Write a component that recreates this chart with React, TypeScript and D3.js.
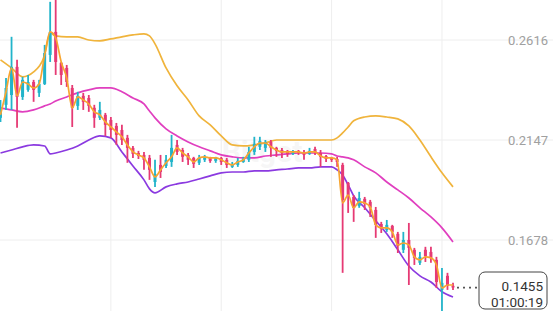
import React from 'react';
import * as d3 from 'd3';

const W = 553;
const H = 311;

// OHLC per candle (83 candles)
const opens = [0.2251,0.2312,0.2358,0.2490,0.2349,0.2382,0.2419,0.2368,0.2410,0.2546,0.2654,0.2509,0.2485,0.2391,0.2307,0.2354,0.2344,0.2298,0.2251,0.2265,0.2241,0.2213,0.2194,0.2157,0.2110,0.2086,0.2077,0.2063,0.1950,0.2030,0.2025,0.2044,0.2124,0.2100,0.2077,0.2063,0.2040,0.2054,0.2063,0.2049,0.2063,0.2054,0.2021,0.2030,0.2044,0.2054,0.2091,0.2115,0.2110,0.2138,0.2110,0.2100,0.2096,0.2082,0.2096,0.2091,0.2082,0.2105,0.2086,0.2072,0.2063,0.2058,0.2030,0.1946,0.1880,0.1838,0.1871,0.1857,0.1819,0.1753,0.1725,0.1744,0.1707,0.1632,0.1678,0.1632,0.1571,0.1632,0.1622,0.1585,0.1444,0.1510,0.1463];
const highs = [0.2335,0.2438,0.2631,0.2523,0.2443,0.2452,0.2429,0.2429,0.2593,0.2795,0.2818,0.2513,0.2499,0.2405,0.2373,0.2368,0.2358,0.2312,0.2326,0.2274,0.2255,0.2227,0.2218,0.2171,0.2119,0.2096,0.2091,0.2077,0.2054,0.2077,0.2077,0.2171,0.2147,0.2110,0.2086,0.2068,0.2077,0.2077,0.2068,0.2068,0.2068,0.2063,0.2044,0.2063,0.2068,0.2115,0.2162,0.2162,0.2147,0.2147,0.2115,0.2110,0.2100,0.2100,0.2100,0.2100,0.2110,0.2115,0.2100,0.2077,0.2068,0.2068,0.2040,0.1950,0.1889,0.1904,0.1880,0.1866,0.1833,0.1763,0.1772,0.1749,0.1716,0.1716,0.1758,0.1641,0.1622,0.1646,0.1646,0.1599,0.1547,0.1524,0.1477];
const lows = [0.2232,0.2288,0.2288,0.2204,0.2335,0.2373,0.2326,0.2349,0.2405,0.2513,0.2452,0.2405,0.2396,0.2208,0.2288,0.2288,0.2279,0.2204,0.2241,0.2166,0.2157,0.2124,0.2124,0.2040,0.2063,0.2058,0.2007,0.1960,0.1927,0.1969,0.2016,0.2021,0.2077,0.2044,0.2030,0.2016,0.2030,0.2044,0.2040,0.2040,0.2030,0.2016,0.2016,0.2021,0.2040,0.2044,0.2077,0.2100,0.2091,0.2068,0.2068,0.2063,0.2068,0.2077,0.2077,0.2054,0.2077,0.2077,0.2021,0.2044,0.2044,0.2021,0.1524,0.1805,0.1763,0.1829,0.1819,0.1786,0.1688,0.1711,0.1716,0.1688,0.1617,0.1617,0.1467,0.1561,0.1561,0.1575,0.1571,0.1453,0.1313,0.1444,0.1444];
const closes = [0.2298,0.2391,0.2490,0.2349,0.2429,0.2419,0.2382,0.2410,0.2555,0.2654,0.2513,0.2452,0.2419,0.2298,0.2354,0.2326,0.2307,0.2251,0.2288,0.2218,0.2194,0.2171,0.2147,0.2110,0.2082,0.2072,0.2054,0.2007,0.1988,0.1997,0.2054,0.2110,0.2091,0.2068,0.2054,0.2035,0.2063,0.2068,0.2049,0.2063,0.2044,0.2030,0.2035,0.2049,0.2058,0.2091,0.2129,0.2143,0.2138,0.2110,0.2096,0.2086,0.2082,0.2091,0.2086,0.2077,0.2096,0.2091,0.2068,0.2058,0.2054,0.2044,0.1866,0.1885,0.1829,0.1875,0.1847,0.1829,0.1749,0.1730,0.1749,0.1716,0.1650,0.1678,0.1641,0.1594,0.1599,0.1603,0.1594,0.1481,0.1477,0.1463,0.1455];

// short moving average (orange line), one value per candle
const maValues = [0.2265,0.2373,0.2485,0.2354,0.2419,0.2410,0.2391,0.2410,0.2546,0.2654,0.2626,0.2513,0.2438,0.2298,0.2349,0.2335,0.2316,0.2279,0.2265,0.2232,0.2208,0.2185,0.2162,0.2124,0.2091,0.2077,0.2063,0.2021,0.1974,0.2007,0.2040,0.2068,0.2110,0.2086,0.2068,0.2044,0.2063,0.2068,0.2063,0.2063,0.2054,0.2040,0.2030,0.2044,0.2054,0.2086,0.2115,0.2133,0.2133,0.2115,0.2100,0.2091,0.2091,0.2091,0.2091,0.2086,0.2091,0.2091,0.2072,0.2063,0.2063,0.2054,0.1852,0.1889,0.1829,0.1857,0.1852,0.1833,0.1749,0.1735,0.1735,0.1716,0.1655,0.1664,0.1655,0.1599,0.1585,0.1599,0.1594,0.1561,0.1453,0.1467,0.1467];

// Bollinger bands, read at these candle indices
const bandIdx = [0,2,4,6,8,9,10,12,14,16,18,20,22,24,26,27,28,30,32,34,36,38,40,42,44,46,48,50,52,54,56,58,60,61,62,63,64,66,68,70,72,74,76,78,80,82];
const upperBand = [0.2523,0.2485,0.2443,0.2466,0.2546,0.2649,0.2635,0.2631,0.2631,0.2616,0.2612,0.2621,0.2631,0.2640,0.2645,0.2635,0.2598,0.2485,0.2401,0.2335,0.2260,0.2218,0.2166,0.2124,0.2119,0.2124,0.2133,0.2147,0.2147,0.2147,0.2147,0.2147,0.2147,0.2157,0.2180,0.2208,0.2237,0.2255,0.2260,0.2255,0.2246,0.2213,0.2147,0.2068,0.1993,0.1927];
const middleBand = [0.2298,0.2288,0.2279,0.2288,0.2307,0.2316,0.2330,0.2349,0.2368,0.2382,0.2391,0.2391,0.2373,0.2344,0.2316,0.2283,0.2251,0.2199,0.2166,0.2138,0.2115,0.2096,0.2077,0.2068,0.2063,0.2063,0.2072,0.2077,0.2082,0.2086,0.2086,0.2086,0.2082,0.2072,0.2068,0.2063,0.2054,0.2021,0.1993,0.1950,0.1913,0.1875,0.1829,0.1786,0.1735,0.1669];
const lowerBand = [0.2086,0.2100,0.2115,0.2124,0.2119,0.2082,0.2086,0.2100,0.2119,0.2147,0.2166,0.2157,0.2091,0.2025,0.1960,0.1918,0.1899,0.1927,0.1941,0.1950,0.1964,0.1979,0.1993,0.1997,0.1997,0.2002,0.2002,0.2007,0.2011,0.2016,0.2016,0.2021,0.2021,0.2007,0.1983,0.1936,0.1885,0.1829,0.1768,0.1707,0.1632,0.1556,0.1510,0.1481,0.1435,0.1411];

const yTickValues = [0.2616, 0.2147, 0.1678];
const timeGridIdx = [20, 40, 60, 80];
const lastPrice = 0.1455;
const countdown = '01:00:19';

const UP = '#22b4ca';
const DOWN = '#e63a74';
const C_UPPER = '#f0b43c';
const C_MID = '#e03fbf';
const C_LOW = '#8b3ae0';
const C_MA = '#f7a530';

export default function App() {
  const n = closes.length;
  const x = d3.scaleLinear().domain([0, n - 1]).range([0.5, 453]);
  const y = d3.scaleLinear().domain([0.1678, 0.2616]).range([240, 40]);

  const band = d3
    .line<[number, number]>()
    .x((d) => x(d[0]))
    .y((d) => y(d[1]))
    .curve(d3.curveMonotoneX);

  const toPts = (vals: number[]) => vals.map((v, k) => [bandIdx[k], v] as [number, number]);
  const maPts = maValues.map((v, i) => [i, v] as [number, number]);

  const font = 'Roboto, "Noto Sans", sans-serif';
  const lastY = y(lastPrice);

  return (
    <div style={{ position: 'fixed', left: 0, top: 0, width: W, height: H, background: '#fff' }}>
      <svg width={W} height={H} style={{ display: 'block' }}>
        <rect x={0} y={0} width={W} height={H} fill="#fff" />
        {yTickValues.map((t) => (
          <line key={'h' + t} x1={0} x2={W} y1={y(t)} y2={y(t)} stroke="#eeeeee" strokeWidth={1} />
        ))}
        {timeGridIdx.map((i) => (
          <line key={'v' + i} x1={x(i)} x2={x(i)} y1={0} y2={H} stroke="#eeeeee" strokeWidth={1} />
        ))}
        <text x={262} y={162} textAnchor="middle" fontFamily={font} fontWeight={700} fontSize={30} fill="#000" opacity={0.03}>
          Bitget
        </text>
        {yTickValues.map((t) => (
          <text key={'l' + t} x={548} y={y(t)} dy="0.35em" textAnchor="end" fontFamily={font} fontSize={13} fill="#a0a0a0">
            {t.toFixed(4)}
          </text>
        ))}
        <path d={band(toPts(upperBand)) || ''} fill="none" stroke={C_UPPER} strokeWidth={1.7} />
        <path d={band(toPts(middleBand)) || ''} fill="none" stroke={C_MID} strokeWidth={1.7} />
        <path d={band(toPts(lowerBand)) || ''} fill="none" stroke={C_LOW} strokeWidth={1.7} />
        {closes.map((c, i) => {
          const o = opens[i];
          const col = c >= o ? UP : DOWN;
          const cx = x(i);
          const top = y(Math.max(o, c));
          const bot = y(Math.min(o, c));
          return (
            <g key={'c' + i}>
              <line x1={cx} x2={cx} y1={y(highs[i])} y2={y(lows[i])} stroke={col} strokeWidth={1.8} />
              <rect x={cx - 1.5} y={top} width={3} height={Math.max(1.5, bot - top)} fill={col} />
            </g>
          );
        })}
        <path d={band(maPts) || ''} fill="none" stroke={C_MA} strokeWidth={1.7} />
        <line x1={x(n - 1) + 4} x2={478} y1={lastY} y2={lastY} stroke="#555" strokeWidth={1.8} strokeDasharray="2 4" />
        <rect x={479} y={272} width={68} height={37} rx={6} ry={6} fill="#fff" stroke="#444" strokeWidth={1} />
        <text x={543} y={lastY - 1} dy="0.35em" textAnchor="end" fontFamily={font} fontSize={13.5} fill="#333">
          {lastPrice.toFixed(4)}
        </text>
        <text x={543} y={lastY + 15} dy="0.35em" textAnchor="end" fontFamily={font} fontSize={13.5} fill="#333">
          {countdown}
        </text>
      </svg>
    </div>
  );
}
